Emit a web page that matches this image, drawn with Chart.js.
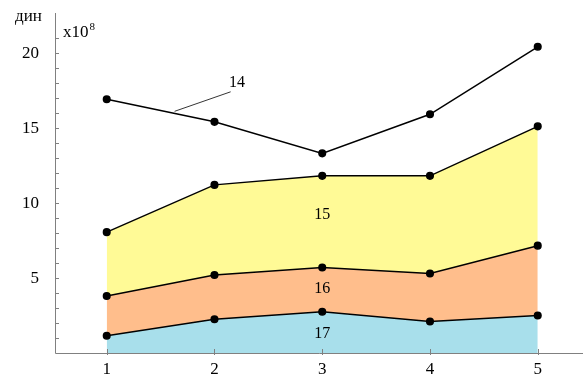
<!DOCTYPE html>
<html>
<head>
<meta charset="utf-8">
<script src="https://cdn.jsdelivr.net/npm/chart.js@4/dist/chart.umd.min.js"></script>
<style>
html,body{margin:0;padding:0;background:#fff;}
#wrap{width:583px;height:380px;position:relative;}
</style>
</head>
<body>
<div id="wrap"><canvas id="c" width="583" height="380"></canvas></div>
<script>
const categories = [1, 2, 3, 4, 5];
const series14 = [16.9, 15.4, 13.3, 15.9, 20.4];
const series15 = [8.05, 11.2, 11.8, 11.8, 15.1];
const series16 = [3.8, 5.2, 5.7, 5.3, 7.15];
const series17 = [1.15, 2.25, 2.75, 2.1, 2.5];
const yTickLabels = [5, 10, 15, 20];
const seriesNames = ['14', '15', '16', '17'];
const yUnit = 'дин';
const yScaleText = 'x10';
const yScaleExp = '8';

const FONT = '"Liberation Serif", "Times New Roman", serif';
const pts = arr => categories.map((c, i) => ({x: c, y: arr[i]}));

const common = {
  borderColor: '#000', borderWidth: 1.5, pointRadius: 3.3,
  pointBackgroundColor: '#000', pointBorderColor: '#000', tension: 0
};

const annot = [
  {text: seriesNames[0], x: 2.21, y: 18.0},
  {text: seriesNames[1], x: 3.0, y: 9.2},
  {text: seriesNames[2], x: 3.0, y: 4.25},
  {text: seriesNames[3], x: 3.0, y: 1.27}
];
const leader = {x1: 1.63, y1: 16.1, x2: 2.15, y2: 17.4};

const deco = {
  id: 'deco',
  afterDatasetsDraw(chart) {
    const ctx = chart.ctx, xs = chart.scales.x, ys = chart.scales.y;
    const a = chart.chartArea;
    ctx.save();
    ctx.strokeStyle = '#808080';
    ctx.lineWidth = 1;
    ctx.beginPath();
    ctx.moveTo(a.left + 0.5, a.top);
    ctx.lineTo(a.left + 0.5, a.bottom + 0.5);
    ctx.lineTo(a.right, a.bottom + 0.5);
    ctx.stroke();
    ctx.beginPath();
    for (let v = 1; v <= 21; v++) {
      const y = Math.round(ys.getPixelForValue(v)) + 0.5;
      ctx.moveTo(a.left, y); ctx.lineTo(a.left + 4, y);
    }
    categories.forEach(c => {
      const x = Math.round(xs.getPixelForValue(c)) + 0.5;
      ctx.moveTo(x, a.bottom - 4); ctx.lineTo(x, a.bottom + 2);
    });
    ctx.stroke();

    ctx.fillStyle = '#000';
    ctx.font = '17px ' + FONT;
    ctx.textAlign = 'right';
    ctx.textBaseline = 'middle';
    yTickLabels.forEach(v => ctx.fillText(String(v), a.left - 16, ys.getPixelForValue(v) + 1));
    ctx.textAlign = 'center';
    categories.forEach(c => ctx.fillText(String(c), xs.getPixelForValue(c), a.bottom + 17));
    ctx.font = '16px ' + FONT;
    annot.forEach(t => ctx.fillText(t.text, xs.getPixelForValue(t.x), ys.getPixelForValue(t.y)));
    ctx.strokeStyle = '#000';
    ctx.lineWidth = 0.8;
    ctx.beginPath();
    ctx.moveTo(xs.getPixelForValue(leader.x1), ys.getPixelForValue(leader.y1));
    ctx.lineTo(xs.getPixelForValue(leader.x2), ys.getPixelForValue(leader.y2));
    ctx.stroke();
    ctx.textAlign = 'left';
    ctx.textBaseline = 'alphabetic';
    ctx.font = '17px ' + FONT;
    ctx.fillText(yUnit, 15, 21);
    ctx.fillText(yScaleText, 63, 37);
    const w = ctx.measureText(yScaleText).width;
    ctx.font = '11px ' + FONT;
    ctx.fillText(yScaleExp, 63 + w + 1, 30);
    ctx.restore();
  }
};

const noPad = s => { s.paddingLeft = 0; s.paddingRight = 0; s.paddingTop = 0; s.paddingBottom = 0; };

new Chart(document.getElementById('c'), {
  type: 'line',
  data: {
    datasets: [
      Object.assign({label: seriesNames[3], data: pts(series17), fill: 'origin', backgroundColor: '#A8DFEB'}, common),
      Object.assign({label: seriesNames[2], data: pts(series16), fill: '-1', backgroundColor: '#FFBE8C'}, common),
      Object.assign({label: seriesNames[1], data: pts(series15), fill: '-1', backgroundColor: '#FFFA96'}, common),
      Object.assign({label: seriesNames[0], data: pts(series14), fill: false}, common)
    ]
  },
  options: {
    responsive: false,
    animation: false,
    layout: {padding: {top: 13, right: 0, left: 0, bottom: 0}, autoPadding: false},
    plugins: {legend: {display: false}, tooltip: {enabled: false}},
    scales: {
      x: {
        type: 'linear', min: 0.52, max: 5.42,
        afterFit: s => { s.height = 27; noPad(s); },
        grid: {display: false}, border: {display: false},
        ticks: {display: false}
      },
      y: {
        type: 'linear', min: 0, max: 22.65,
        afterFit: s => { s.width = 55; noPad(s); },
        grid: {display: false}, border: {display: false},
        ticks: {display: false}
      }
    }
  },
  plugins: [deco]
});
</script>
</body>
</html>
